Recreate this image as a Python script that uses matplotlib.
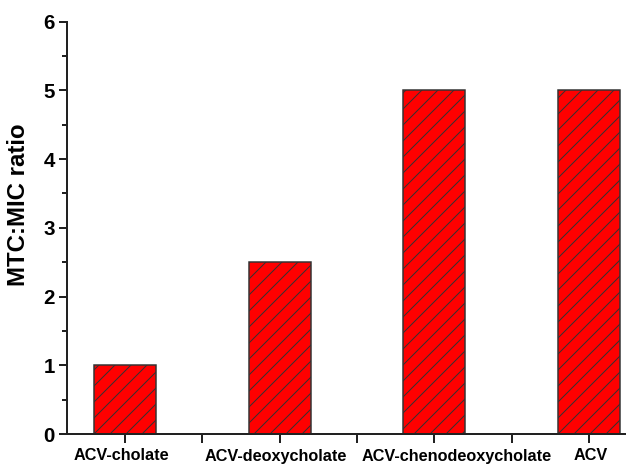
import matplotlib.pyplot as plt
import numpy as np

# data
categorias = ["ACV-cholate", "ACV-deoxycholate", "ACV-chenodeoxycholate", "ACV"]
ratio_mtc_mic = [1.0, 2.5, 5.0, 5.0]

# horizontal shift of each category label from its tick (pixels)
desplazamiento_px = [-4, -3.5, 22, 2]

DPI = 144  # hatch spacing scales with dpi
PX = 72 / DPI  # one pixel in points

plt.rcParams["font.family"] = ["Liberation Sans", "DejaVu Sans"]
plt.rcParams["font.weight"] = "bold"
plt.rcParams["hatch.linewidth"] = 1.0 * PX
plt.rcParams["hatch.color"] = "black"

fig = plt.figure(figsize=(626 / DPI, 465 / DPI), dpi=DPI)
ax = fig.add_axes([67 / 626, 1 - 434 / 465, 1 - 67 / 626, (434 - 21.7) / 465])

x = np.arange(len(categorias))
ax.bar(x, ratio_mtc_mic, width=0.4, color="#ff0000", edgecolor="#333333",
       linewidth=1.5 * PX, hatch="///", zorder=2)

ax.set_xlim(-0.375, 3.24)
ax.set_ylim(0, 6)

ax.set_yticks(np.arange(0, 7, 1))
ax.set_yticks(np.arange(0.5, 6, 1), minor=True)
ax.set_xticks(x)
ax.set_xticklabels([])
ax.set_xticks(x[:-1] + 0.5, minor=True)

# category labels placed by hand so the long one can sit off-centre
for xi, nombre, dx in zip(x, categorias, desplazamiento_px):
    ax.annotate(nombre, xy=(xi, 0), xycoords=("data", "axes fraction"),
                xytext=(dx * PX, -26.5 * PX), textcoords="offset points",
                ha="center", va="baseline", fontsize=16.3 * PX,
                fontweight="bold", annotation_clip=False)

for lab in ax.get_yticklabels():
    lab.set_fontsize(20.5 * PX)
    lab.set_fontweight("bold")

ax.tick_params(axis="both", which="major", direction="out", width=2 * PX,
               length=8 * PX, color="#222222")
ax.tick_params(axis="both", which="minor", direction="out", width=2 * PX,
               length=5 * PX, color="#222222")
ax.tick_params(axis="x", which="both", length=9 * PX)
ax.tick_params(axis="y", which="major", pad=4 * PX)

for lado in ["top", "right"]:
    ax.spines[lado].set_visible(False)
for lado in ["left", "bottom"]:
    ax.spines[lado].set_linewidth(2 * PX)
    ax.spines[lado].set_color("#222222")

ax.set_ylabel("MTC:MIC ratio", fontsize=24 * PX, fontweight="bold")
ax.yaxis.set_label_coords(-0.066, 0.555)

fig.savefig("out.png", dpi=DPI)
